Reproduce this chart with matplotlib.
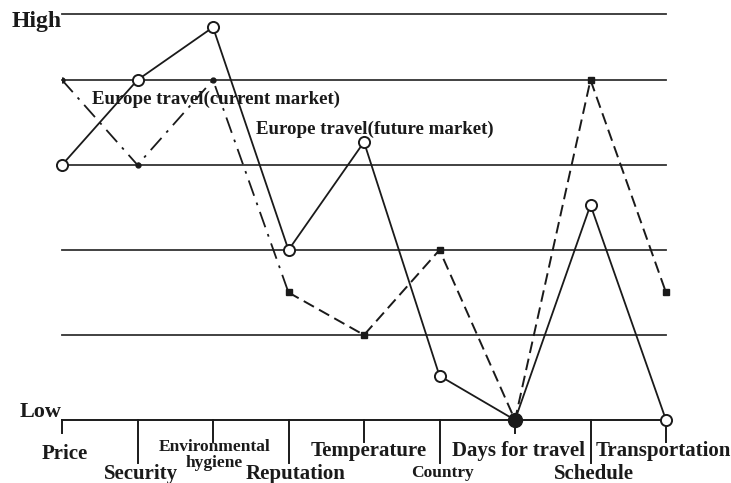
import matplotlib.pyplot as plt

# categories along the bottom axis
categories = ["Price", "Security", "Environmental\nhygiene", "Reputation",
              "Temperature", "Country", "Days for travel", "Schedule",
              "Transportation"]

# rating per category, 0 = Low ... top of chart = High
future_market = [3.0, 4.0, 4.62, 2.0, 3.27, 0.52, 0.0, 2.53, 0.0]
current_market = [4.0, 3.0, 4.0, 1.5, 1.0, 2.0, 0.0, 4.0, 1.5]

levels = [0, 1, 2, 3, 4]
y_top = 4.776

# label rows below the axis (in data units) and tick line ends
label_y = [-0.40, -0.635, -0.41, -0.635, -0.365, -0.62, -0.365, -0.635, -0.365]
label_dx = [0.04, 0.04, 0.02, 0.10, 0.06, 0.04, 0.05, 0.05, -0.03]
tick_end = [-0.15, -0.50, -0.26, -0.50, -0.26, -0.50, -0.15, -0.50, -0.26]
label_size = [15, 15, 12.5, 15, 15, 12.5, 15, 15, 15]

plt.rcParams['font.family'] = ['Liberation Serif', 'DejaVu Serif']
plt.rcParams['font.weight'] = 'bold'

fig = plt.figure(figsize=(7.31, 4.83), dpi=100)
ax = fig.add_axes([62 / 731, 63 / 483, 604 / 731, 406 / 483])
n = len(categories)
ax.set_xlim(0, n - 1)
ax.set_ylim(0, y_top)
ax.axis('off')

line_col = '#1a1a1a'

# horizontal level lines
for lv in levels[1:] + [y_top]:
    ax.plot([0, n - 1], [lv, lv], color='#333333', lw=1.3, clip_on=False, zorder=1)
ax.plot([0, n - 1], [0, 0], color=line_col, lw=1.4, clip_on=False, zorder=1)

# category ticks and labels
for i, cat in enumerate(categories):
    ax.plot([i, i], [0, tick_end[i]], color=line_col, lw=1.4, clip_on=False)
    ax.text(i + label_dx[i], label_y[i], cat, ha='center', va='center',
            fontsize=label_size[i], fontweight='bold', linespacing=0.95,
            color='#1a1a1a')

ax.text(0.0, y_top - 0.09, "High", ha='right', va='center', fontsize=17,
        fontweight='bold', color='#1a1a1a')
ax.text(0.0, 0.09, "Low", ha='right', va='center', fontsize=16,
        fontweight='bold', color='#1a1a1a')

x = list(range(n))

# solid line with open circles
ax.plot(x, future_market, color=line_col, lw=1.3, zorder=3, clip_on=False)
ax.plot(x, future_market, 'o', ms=8, mfc='white', mec=line_col, mew=1.4,
        zorder=5, clip_on=False)

# dash-dot part, then dashed part
ax.plot(x[:4], current_market[:4], color=line_col, lw=1.3,
        dashes=(9, 4, 1.5, 4), zorder=3)
ax.plot(x[3:], current_market[3:], color=line_col, lw=1.4,
        dashes=(6, 3), zorder=3, clip_on=False)
ax.plot(x[:3], current_market[:3], 'o', ms=3.5, color=line_col, zorder=4)
sq = [3, 4, 5, 7, 8]
ax.plot([x[i] for i in sq], [current_market[i] for i in sq], 's', ms=4.5,
        color=line_col, zorder=4, clip_on=False)
ax.plot([x[6]], [current_market[6]], 'o', ms=10, color=line_col, zorder=6,
        clip_on=False)

ax.text(0.4, (420 - 99) / 85, "Europe travel(current market)", ha='left',
        va='center', fontsize=13.6, fontweight='bold', color='#1a1a1a')
ax.text(2.57, (420 - 129) / 85, "Europe travel(future market)", ha='left',
        va='center', fontsize=13.6, fontweight='bold', color='#1a1a1a')

plt.savefig('out.png', dpi=100)
